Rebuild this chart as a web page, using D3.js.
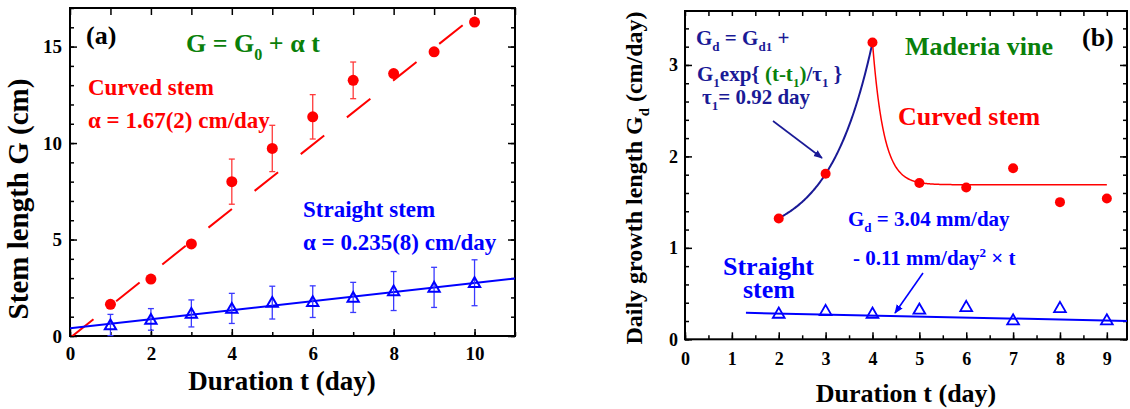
<!DOCTYPE html>
<html><head><meta charset="utf-8">
<script src="https://cdn.jsdelivr.net/npm/d3@7"></script>
<style>
body{margin:0;background:#fff}
svg text{font-family:"Liberation Serif","Times New Roman",serif;font-weight:bold}
</style>
</head><body>
<svg id="chart" width="1130" height="409"></svg>
<script>
// ---- Panel (a): stem length G versus duration t ----
const daysA = [1, 2, 3, 4, 5, 6, 7, 8, 9, 10];
const curvedLength = [1.64, 2.95, 4.77, 8.0, 9.72, 11.36, 13.25, 13.6, 14.73, 16.27];
const curvedErr = [0, 0, 0, 1.17, 1.2, 1.15, 0.95, 0, 0, 0];
const straightLength = [0.57, 0.86, 1.17, 1.43, 1.73, 1.78, 2.0, 2.33, 2.52, 2.76];
const straightErr = [0.55, 0.56, 0.7, 0.78, 0.85, 0.82, 0.78, 1.01, 1.04, 1.19];
const curvedFitA = { g0: -0.1, alpha: 1.67 };
const straightFitA = { g0: 0.4, alpha: 0.235 };
const xTicksA = [0, 2, 4, 6, 8, 10];
const yTicksA = [0, 5, 10, 15];

// ---- Panel (b): daily growth length Gd versus duration t ----
const daysB = [2, 3, 4, 5, 6, 7, 8, 9];
const curvedDaily = [1.32, 1.81, 3.245, 1.71, 1.66, 1.87, 1.50, 1.54];
const straightDaily = [0.284, 0.313, 0.284, 0.328, 0.357, 0.211, 0.346, 0.211];
const xTicksB = [0, 1, 2, 3, 4, 5, 6, 7, 8, 9];
const yTicksB = [0, 1, 2, 3];
// exponential rise Gd = Gd1 + G1 exp{(t - t1)/tau1}
const riseFit = { gd1: 1.078, g1: 0.2464, t1: 2, tau1: 0.92, from: 2, to: 4 };
// relaxation after the peak towards the plateau
const decayFit = { plateau: 1.69, amp: 1.555, t0: 4, tau: 0.24, to: 9 };
// straight stem: Gd = 3.04 mm/day - 0.11 mm/day^2 x t  (in cm/day)
const straightFitB = { a: 0.304, b: -0.011, from: 1.3 };

const RED = "#ff0000", BLUE = "#0000ff", NAVY = "#1a1a96", GREEN = "#0a800a";

const svg = d3.select("#chart");

const xA = d3.scaleLinear([0, 11], [70, 515]);
const yA = d3.scaleLinear([0, 17], [336, 8]);
const xB = d3.scaleLinear([0, 9.43], [685, 1127]);
const yB = d3.scaleLinear([0, 3.59], [339.3, 11]);

function drawFrame(x, y, cfg) {
  const g = svg.append("g");
  const [xl, xr] = x.range(), [yb, yt] = y.range();
  const fmt = d3.format("d");
  const add = (axis, tx, ty) => g.append("g").attr("transform", `translate(${tx},${ty})`).call(axis);
  add(d3.axisBottom(x).tickValues(cfg.xMinor).tickSize(-cfg.minor).tickFormat(""), 0, yb);
  add(d3.axisBottom(x).tickValues(cfg.xMajor).tickSize(-cfg.major).tickPadding(cfg.xPad).tickFormat(fmt), 0, yb);
  add(d3.axisTop(x).tickValues(cfg.xMinor).tickSize(-cfg.topSize).tickFormat(""), 0, yt);
  add(d3.axisLeft(y).tickValues(cfg.yMinor).tickSize(-cfg.minor).tickFormat(""), xl, 0);
  add(d3.axisLeft(y).tickValues(cfg.yMajor).tickSize(-cfg.major).tickPadding(cfg.yPad).tickFormat(fmt), xl, 0);
  add(d3.axisRight(y).tickValues(cfg.yMinor).tickSize(-cfg.minor).tickFormat(""), xr, 0);
  add(d3.axisRight(y).tickValues(cfg.yMajor).tickSize(-cfg.major).tickFormat(""), xr, 0);
  g.selectAll(".domain").remove();
  g.selectAll(".tick line").attr("stroke", "#000").attr("stroke-width", 1.5);
  g.selectAll(".tick text").attr("fill", "#000").attr("font-size", cfg.tickFont)
    .attr("font-family", '"Liberation Serif","Times New Roman",serif').attr("font-weight", "bold");
  g.append("rect").attr("x", xl).attr("y", yt).attr("width", xr - xl).attr("height", yb - yt)
    .attr("fill", "none").attr("stroke", "#000").attr("stroke-width", 2);
}

function rich(x, y, size, color, parts, extra) {
  const t = svg.append("text").attr("x", x).attr("y", y).attr("font-size", size).attr("fill", color);
  if (extra) extra(t);
  let shift = 0;
  parts.forEach(p => {
    const s = typeof p === "string" ? { t: p } : p;
    const target = s.sub ? size * 0.3 : s.sup ? -size * 0.4 : 0;
    const ts = t.append("tspan").text(s.t).attr("dy", target - shift);
    if (s.sub || s.sup) ts.attr("font-size", size * 0.62);
    if (s.c) ts.attr("fill", s.c);
    shift = target;
  });
  return t;
}

function errorBars(x, y, xs, ys, es, color) {
  const g = svg.append("g").attr("stroke", color).attr("stroke-width", 1.3);
  xs.forEach((d, i) => {
    if (!es[i]) return;
    const cx = x(d), top = y(ys[i] + es[i]), bot = y(Math.max(ys[i] - es[i], 0));
    g.append("line").attr("x1", cx).attr("x2", cx).attr("y1", top).attr("y2", bot);
    g.append("line").attr("x1", cx - 3).attr("x2", cx + 3).attr("y1", top).attr("y2", top);
    if (ys[i] - es[i] > 0) g.append("line").attr("x1", cx - 3).attr("x2", cx + 3).attr("y1", bot).attr("y2", bot);
  });
}

const tri = d3.symbol().type(d3.symbolTriangle);

// clip regions
const defs = svg.append("defs");
defs.append("clipPath").attr("id", "clipA").append("rect")
  .attr("x", xA.range()[0]).attr("y", yA.range()[1]).attr("width", xA.range()[1] - xA.range()[0]).attr("height", yA.range()[0] - yA.range()[1]);
defs.append("clipPath").attr("id", "clipB").append("rect")
  .attr("x", xB.range()[0]).attr("y", yB.range()[1]).attr("width", xB.range()[1] - xB.range()[0]).attr("height", yB.range()[0] - yB.range()[1]);
["navy", "blue"].forEach((n, i) => {
  defs.append("marker").attr("id", "arrow-" + n).attr("viewBox", "0 0 10 10").attr("refX", 9).attr("refY", 5)
    .attr("markerWidth", 9).attr("markerHeight", 9).attr("markerUnits", "userSpaceOnUse").attr("orient", "auto")
    .append("path").attr("d", "M0,1 L10,5 L0,9 z").attr("fill", i ? BLUE : NAVY);
});

// ================= Panel (a) =================
drawFrame(xA, yA, {
  xMajor: xTicksA, xMinor: d3.range(0, 11.01, 1), yMajor: yTicksA, yMinor: d3.range(0, 17.01, 1),
  major: 7, minor: 4, topSize: 7, xPad: 11, yPad: 8, tickFont: 19
});

const lineA = d3.line().x(d => xA(d[0])).y(d => yA(d[1]));
const gA = svg.append("g").attr("clip-path", "url(#clipA)");
gA.append("path").attr("d", lineA([[0, curvedFitA.g0], [11, curvedFitA.g0 + 11 * curvedFitA.alpha]]))
  .attr("stroke", RED).attr("stroke-width", 2).attr("fill", "none").attr("stroke-dasharray", "30,29");
gA.append("path").attr("d", lineA([[0, straightFitA.g0], [11, straightFitA.g0 + 11 * straightFitA.alpha]]))
  .attr("stroke", BLUE).attr("stroke-width", 2).attr("fill", "none");

errorBars(xA, yA, daysA, curvedLength, curvedErr, "#ff3a3a");
errorBars(xA, yA, daysA, straightLength, straightErr, "#3a3aff");

svg.append("g").selectAll("circle").data(daysA).join("circle")
  .attr("cx", d => xA(d)).attr("cy", (d, i) => yA(curvedLength[i])).attr("r", 5.5).attr("fill", RED);
svg.append("g").selectAll("path").data(daysA).join("path")
  .attr("d", tri.size(55)).attr("transform", (d, i) => `translate(${xA(d)},${yA(straightLength[i]) + 1})`)
  .attr("fill", "none").attr("stroke", BLUE).attr("stroke-width", 2);

svg.append("text").attr("x", 282).attr("y", 390).attr("text-anchor", "middle").attr("font-size", 27).text("Duration t (day)");
svg.append("text").attr("transform", "translate(28,199) rotate(-90)").attr("text-anchor", "middle").attr("font-size", 29).text("Stem length G (cm)");

rich(86, 44, 26, "#000", ["(a)"]);
rich(186, 52, 26, GREEN, ["G = G", { t: "0", sub: true }, " + α t"]);
rich(88, 95, 23, RED, ["Curved stem"]);
rich(88, 128, 23, RED, ["α = 1.67(2) cm/day"]);
rich(303, 217, 23, BLUE, ["Straight stem"]);
rich(303, 250, 23, BLUE, ["α = 0.235(8) cm/day"]);

// ================= Panel (b) =================
drawFrame(xB, yB, {
  xMajor: xTicksB, xMinor: d3.range(0, 9.43, 0.5), yMajor: yTicksB, yMinor: d3.range(0, 3.59, 0.2),
  major: 7, minor: 4, topSize: 5, xPad: 13, yPad: 7, tickFont: 18
});

const lineB = d3.line().x(d => xB(d[0])).y(d => yB(d[1]));
const gB = svg.append("g").attr("clip-path", "url(#clipB)");
const riseT = d3.range(riseFit.from, riseFit.to + 1e-9, 0.02);
gB.append("path").attr("d", lineB(riseT.map(t => [t, riseFit.gd1 + riseFit.g1 * Math.exp((t - riseFit.t1) / riseFit.tau1)])))
  .attr("stroke", NAVY).attr("stroke-width", 2).attr("fill", "none");
const decayT = d3.range(decayFit.t0, decayFit.to + 1e-9, 0.01);
gB.append("path").attr("d", lineB(decayT.map(t => [t, decayFit.plateau + decayFit.amp * Math.exp(-(t - decayFit.t0) / decayFit.tau)])))
  .attr("stroke", RED).attr("stroke-width", 1.5).attr("fill", "none");
gB.append("path").attr("d", lineB([[straightFitB.from, straightFitB.a + straightFitB.b * straightFitB.from], [xB.domain()[1], straightFitB.a + straightFitB.b * xB.domain()[1]]]))
  .attr("stroke", BLUE).attr("stroke-width", 2).attr("fill", "none");

svg.append("g").selectAll("circle").data(daysB).join("circle")
  .attr("cx", d => xB(d)).attr("cy", (d, i) => yB(curvedDaily[i])).attr("r", 5).attr("fill", RED);
svg.append("g").selectAll("path").data(daysB).join("path")
  .attr("d", tri.size(60)).attr("transform", (d, i) => `translate(${xB(d)},${yB(straightDaily[i]) + 1})`)
  .attr("fill", "none").attr("stroke", BLUE).attr("stroke-width", 1.8);

svg.append("text").attr("x", 906).attr("y", 402).attr("text-anchor", "middle").attr("font-size", 26).text("Duration t (day)");
rich(0, 0, 24, "#000", ["Daily growth length G", { t: "d", sub: true }, " (cm/day)"],
  t => t.attr("transform", "translate(642,178) rotate(-90)").attr("text-anchor", "middle"));

rich(696, 45, 21, NAVY, ["G", { t: "d", sub: true }, " = G", { t: "d1", sub: true }, " +"]);
rich(697, 81, 21, NAVY, ["G", { t: "1", sub: true }, "exp{ ", { t: "(t-t", c: GREEN }, { t: "1", sub: true, c: GREEN }, { t: ")", c: GREEN }, "/τ", { t: "1", sub: true }, " }"]);
rich(702, 104, 21, NAVY, ["τ", { t: "1", sub: true }, "= 0.92 day"]);
rich(905, 55, 26, GREEN, ["Maderia vine"]);
rich(1082, 46, 26, "#000", ["(b)"]);
rich(898, 125, 26, RED, ["Curved stem"]);
rich(723, 275, 26, BLUE, ["Straight"]);
rich(743, 298, 26, BLUE, ["stem"]);
rich(848, 226, 21, BLUE, ["G", { t: "d", sub: true }, " = 3.04 mm/day"]);
rich(853, 265, 21, BLUE, ["- 0.11 mm/day", { t: "2", sup: true }, " × t"]);

svg.append("line").attr("x1", 773).attr("y1", 121).attr("x2", 822).attr("y2", 158)
  .attr("stroke", NAVY).attr("stroke-width", 1.6).attr("marker-end", "url(#arrow-navy)");
svg.append("line").attr("x1", 923).attr("y1", 273).attr("x2", 895).attr("y2", 313)
  .attr("stroke", BLUE).attr("stroke-width", 1.6).attr("marker-end", "url(#arrow-blue)");
</script>
</body></html>
